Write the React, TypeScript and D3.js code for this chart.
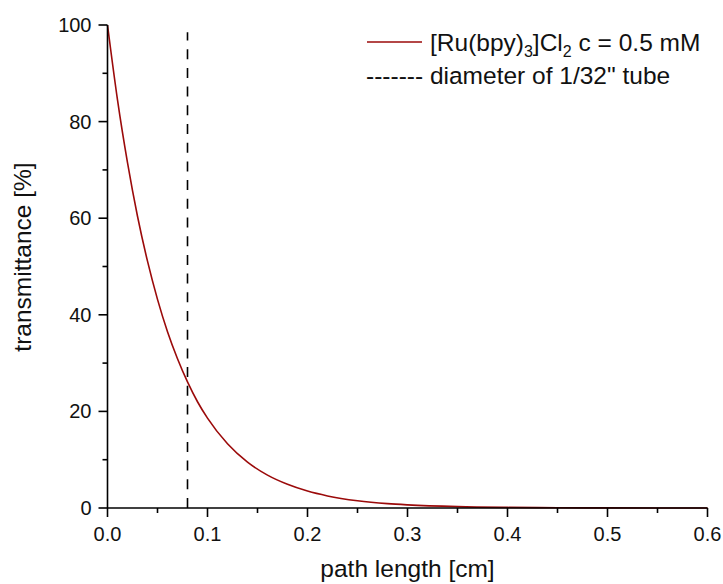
import React from "react";
import * as d3 from "d3";

const pathLength = [0, 0.01, 0.02, 0.03, 0.04, 0.05, 0.06, 0.07, 0.08, 0.09, 0.1, 0.12, 0.14, 0.16, 0.18, 0.2, 0.22, 0.25, 0.28, 0.3, 0.35, 0.4, 0.45, 0.5, 0.6];
const transmittance = [100, 84.5, 71.5, 60.4, 51.1, 43.2, 36.5, 30.9, 26.1, 22.0, 18.6, 13.3, 9.5, 6.8, 4.9, 3.5, 2.5, 1.5, 0.9, 0.65, 0.28, 0.12, 0.05, 0.02, 0];
const tubeDiameter = 0.08;
const tubeLineTop = 98.5;
const xTicks = [0, 0.1, 0.2, 0.3, 0.4, 0.5, 0.6];
const xMinorTicks = [0.05, 0.15, 0.25, 0.35, 0.45, 0.55];
const yTicks = [0, 20, 40, 60, 80, 100];
const yMinorTicks = [10, 30, 50, 70, 90];

const FONT = "'Liberation Sans', Arial, sans-serif";

export default function App() {
  const W = 723, H = 584;
  const x = d3.scaleLinear().domain([0, 0.6]).range([107.5, 707.5]);
  const y = d3.scaleLinear().domain([0, 100]).range([508, 25]);
  const pts = pathLength.map((p, i) => [p, transmittance[i]] as [number, number]);
  const line = d3.line<[number, number]>().x(d => x(d[0])).y(d => y(d[1])).curve(d3.curveMonotoneX);
  const red = "#9b0a0a";
  return (
    <svg width={W} height={H} style={{ position: "absolute", left: 0, top: 0 }} fontFamily={FONT}>
      <rect width={W} height={H} fill="#fff" />
      {/* curve */}
      <path d={line(pts) || ""} fill="none" stroke={red} strokeWidth={1.6} />
      {/* dashed tube line */}
      <line x1={x(tubeDiameter)} x2={x(tubeDiameter)} y1={y(0)} y2={y(tubeLineTop)} stroke="#000" strokeWidth={1.6} strokeDasharray="10,8.7" />
      {/* axes */}
      <line x1={x(0)} x2={x(0.6)} y1={y(0)} y2={y(0)} stroke="#000" strokeWidth={1.6} />
      <line x1={x(0)} x2={x(0)} y1={y(0)} y2={y(100)} stroke="#000" strokeWidth={1.6} />
      {xTicks.map(t => (
        <g key={"xt" + t}>
          <line x1={x(t)} x2={x(t)} y1={y(0)} y2={y(0) + 9} stroke="#000" strokeWidth={1.6} />
          <text x={x(t)} y={y(0) + 33} textAnchor="middle" fontSize={20} fill="#111">{t.toFixed(1)}</text>
        </g>
      ))}
      {xMinorTicks.map(t => (
        <line key={"xm" + t} x1={x(t)} x2={x(t)} y1={y(0)} y2={y(0) + 5} stroke="#000" strokeWidth={1.6} />
      ))}
      {yTicks.map(t => (
        <g key={"yt" + t}>
          <line x1={x(0) - 9} x2={x(0)} y1={y(t)} y2={y(t)} stroke="#000" strokeWidth={1.6} />
          <text x={x(0) - 16} y={y(t) + 7} textAnchor="end" fontSize={20} fill="#111">{t}</text>
        </g>
      ))}
      {yMinorTicks.map(t => (
        <line key={"ym" + t} x1={x(0) - 5} x2={x(0)} y1={y(t)} y2={y(t)} stroke="#000" strokeWidth={1.6} />
      ))}
      {/* axis titles */}
      <text x={(x(0) + x(0.6)) / 2} y={577} textAnchor="middle" fontSize={24.5} fill="#111">path length [cm]</text>
      <text transform={`translate(31,257) rotate(-90)`} textAnchor="middle" fontSize={24.5} fill="#111">transmittance [%]</text>
      {/* legend */}
      <line x1={367} x2={422} y1={42} y2={42} stroke={red} strokeWidth={1.6} />
      <text x={430} y={51} fontSize={24.5} fill="#111">
        [Ru(bpy)<tspan fontSize={16} dy={6}>3</tspan><tspan dy={-6}>]Cl</tspan><tspan fontSize={16} dy={6}>2</tspan><tspan dy={-6}> c = 0.5 mM</tspan>
      </text>
      <text x={366} y={84} fontSize={24.5} fill="#111">------- diameter of 1/32" tube</text>
    </svg>
  );
}
